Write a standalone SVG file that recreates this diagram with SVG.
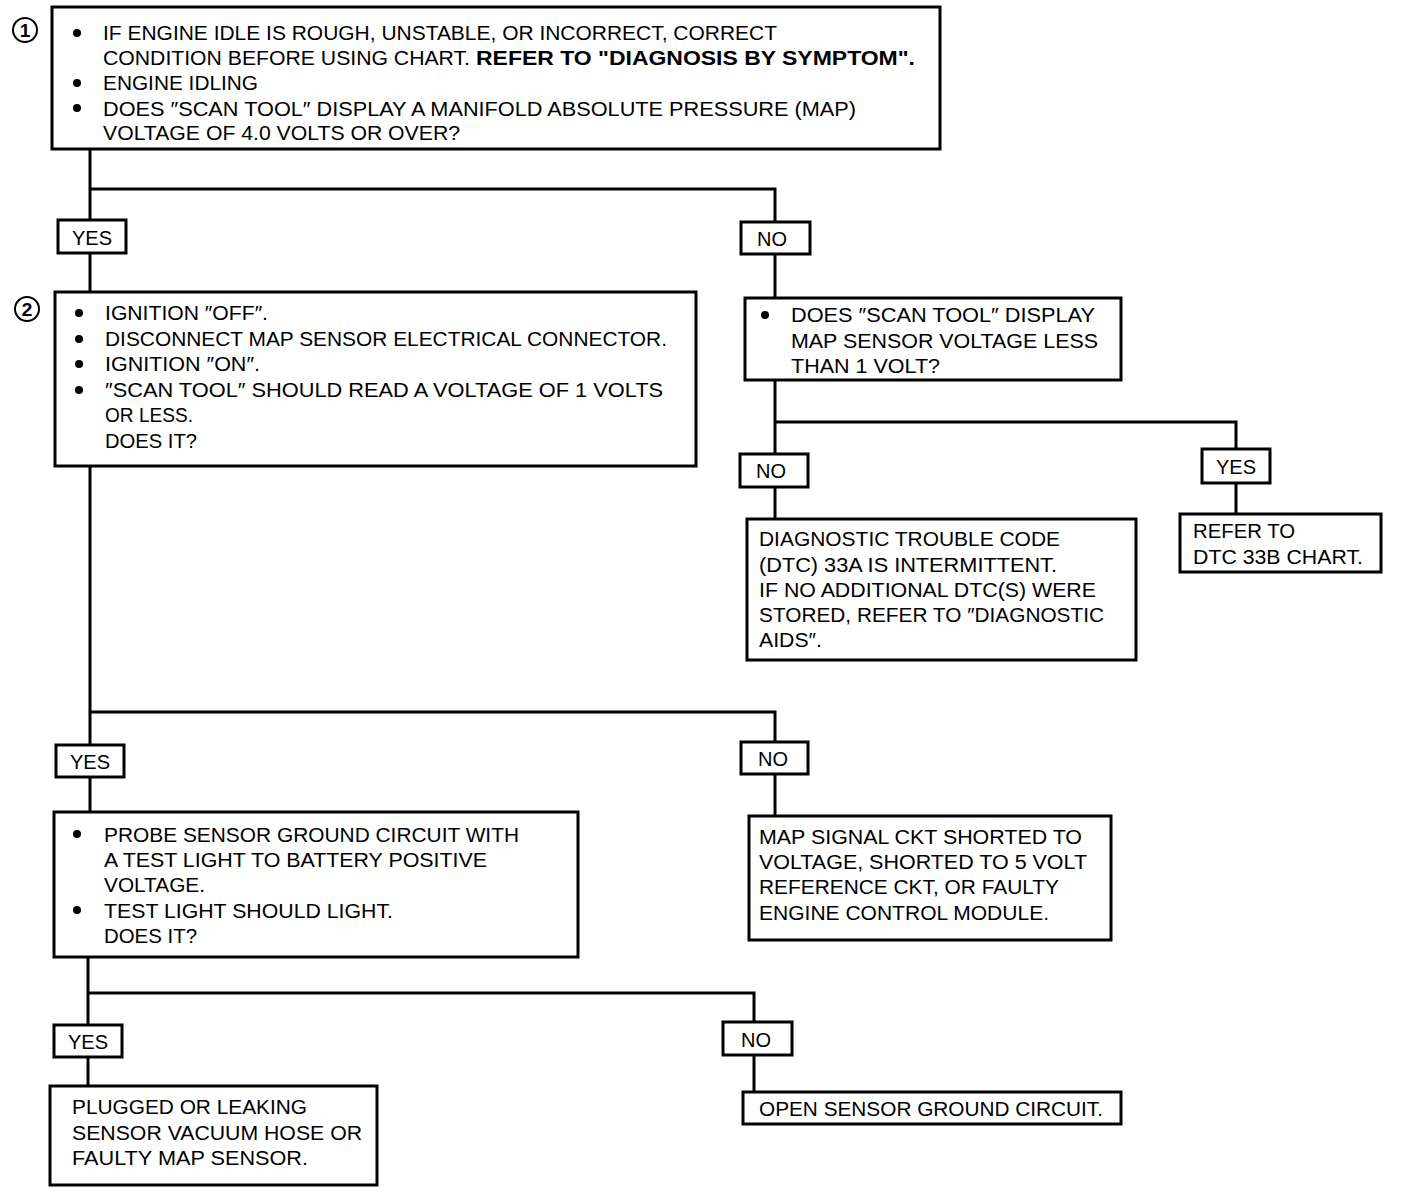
<svg xmlns="http://www.w3.org/2000/svg" width="1408" height="1192" viewBox="0 0 1408 1192">
<style>
.box{fill:#fff;stroke:#000;stroke-width:3}
.lbl{fill:#fff;stroke:#000;stroke-width:3}
.con{fill:none;stroke:#000;stroke-width:3}
text{font-family:"Liberation Sans",Arial,sans-serif;font-size:20px;fill:#000}
.b{font-weight:bold}
.lt{text-anchor:middle}
.num{font-size:19px;text-anchor:middle;font-weight:bold}
.cir{fill:none;stroke:#000;stroke-width:2}
</style>
<rect width="1408" height="1192" fill="#fff"/>
<g id="connectors">
<polyline class="con" points="90,149 90,292"/>
<polyline class="con" points="90,189 775,189 775,298"/>
<polyline class="con" points="775,380 775,519"/>
<polyline class="con" points="775,422 1236,422 1236,514"/>
<polyline class="con" points="90,466 90,812"/>
<polyline class="con" points="90,712 775,712 775,816"/>
<polyline class="con" points="88,957 88,1086"/>
<polyline class="con" points="88,993 754,993 754,1092"/>
</g>
<g id="step1">
<circle class="cir" cx="25" cy="30" r="12"/><text class="num" x="25" y="37">1</text>
<rect class="box" x="52" y="7" width="888" height="142"/>
<circle cx="77" cy="33" r="4"/><circle cx="77" cy="83" r="4"/><circle cx="77" cy="108" r="4"/>
<text x="103" y="40" textLength="674" lengthAdjust="spacingAndGlyphs">IF ENGINE IDLE IS ROUGH, UNSTABLE, OR INCORRECT, CORRECT</text>
<text x="103" y="65" textLength="367" lengthAdjust="spacingAndGlyphs">CONDITION BEFORE USING CHART.</text>
<text class="b" x="476" y="65" textLength="439" lengthAdjust="spacingAndGlyphs">REFER TO "DIAGNOSIS BY SYMPTOM".</text>
<text x="103" y="90" textLength="155" lengthAdjust="spacingAndGlyphs">ENGINE IDLING</text>
<text x="103" y="116" textLength="753" lengthAdjust="spacingAndGlyphs">DOES ″SCAN TOOL″ DISPLAY A MANIFOLD ABSOLUTE PRESSURE (MAP)</text>
<text x="103" y="140" textLength="357" lengthAdjust="spacingAndGlyphs">VOLTAGE OF 4.0 VOLTS OR OVER?</text>
</g>
<g id="yes1"><rect class="lbl" x="58" y="220" width="68" height="33"/><text class="lt" x="92" y="245">YES</text></g>
<g id="no1"><rect class="lbl" x="741" y="222" width="69" height="32"/><text class="lt" x="772" y="246">NO</text></g>
<g id="step2">
<circle class="cir" cx="27" cy="309" r="12"/><text class="num" x="27" y="316">2</text>
<rect class="box" x="55" y="292" width="641" height="174"/>
<circle cx="79" cy="313" r="4"/><circle cx="79" cy="339" r="4"/><circle cx="79" cy="364" r="4"/><circle cx="79" cy="390" r="4"/>
<text x="105" y="320" textLength="163" lengthAdjust="spacingAndGlyphs">IGNITION ″OFF″.</text>
<text x="105" y="346" textLength="562" lengthAdjust="spacingAndGlyphs">DISCONNECT MAP SENSOR ELECTRICAL CONNECTOR.</text>
<text x="105" y="371" textLength="155" lengthAdjust="spacingAndGlyphs">IGNITION ″ON″.</text>
<text x="105" y="397" textLength="558" lengthAdjust="spacingAndGlyphs">″SCAN TOOL″ SHOULD READ A VOLTAGE OF 1 VOLTS</text>
<text x="105" y="422" textLength="88" lengthAdjust="spacingAndGlyphs">OR LESS.</text>
<text x="105" y="448" textLength="92" lengthAdjust="spacingAndGlyphs">DOES IT?</text>
</g>
<g id="step3">
<rect class="box" x="745" y="298" width="376" height="82"/>
<circle cx="765" cy="315" r="4"/>
<text x="791" y="322" textLength="304" lengthAdjust="spacingAndGlyphs">DOES ″SCAN TOOL″ DISPLAY</text>
<text x="791" y="348" textLength="307" lengthAdjust="spacingAndGlyphs">MAP SENSOR VOLTAGE LESS</text>
<text x="791" y="373" textLength="149" lengthAdjust="spacingAndGlyphs">THAN 1 VOLT?</text>
</g>
<g id="no2"><rect class="lbl" x="740" y="454" width="68" height="33"/><text class="lt" x="771" y="478">NO</text></g>
<g id="yes2"><rect class="lbl" x="1202" y="449" width="68" height="34"/><text class="lt" x="1236" y="474">YES</text></g>
<g id="intermittent">
<rect class="box" x="747" y="519" width="389" height="141"/>
<text x="759" y="546" textLength="301" lengthAdjust="spacingAndGlyphs">DIAGNOSTIC TROUBLE CODE</text>
<text x="759" y="572" textLength="298" lengthAdjust="spacingAndGlyphs">(DTC) 33A  IS INTERMITTENT.</text>
<text x="759" y="597" textLength="337" lengthAdjust="spacingAndGlyphs">IF NO ADDITIONAL DTC(S) WERE</text>
<text x="759" y="622" textLength="345" lengthAdjust="spacingAndGlyphs">STORED, REFER TO ″DIAGNOSTIC</text>
<text x="759" y="647" textLength="63" lengthAdjust="spacingAndGlyphs">AIDS″.</text>
</g>
<g id="refer33b">
<rect class="box" x="1180" y="514" width="201" height="58"/>
<text x="1193" y="538" textLength="102" lengthAdjust="spacingAndGlyphs">REFER TO</text>
<text x="1193" y="564" textLength="170" lengthAdjust="spacingAndGlyphs">DTC 33B CHART.</text>
</g>
<g id="yes3"><rect class="lbl" x="56" y="745" width="68" height="32"/><text class="lt" x="90" y="769">YES</text></g>
<g id="no3"><rect class="lbl" x="741" y="742" width="67" height="32"/><text class="lt" x="773" y="766">NO</text></g>
<g id="step4">
<rect class="box" x="54" y="812" width="524" height="145"/>
<circle cx="77" cy="834" r="4"/><circle cx="77" cy="910" r="4"/>
<text x="104" y="842" textLength="415" lengthAdjust="spacingAndGlyphs">PROBE SENSOR GROUND CIRCUIT WITH</text>
<text x="104" y="867" textLength="383" lengthAdjust="spacingAndGlyphs">A TEST LIGHT TO BATTERY POSITIVE</text>
<text x="104" y="892" textLength="101" lengthAdjust="spacingAndGlyphs">VOLTAGE.</text>
<text x="104" y="918" textLength="289" lengthAdjust="spacingAndGlyphs">TEST LIGHT SHOULD LIGHT.</text>
<text x="104" y="943" textLength="93" lengthAdjust="spacingAndGlyphs">DOES IT?</text>
</g>
<g id="shorted">
<rect class="box" x="749" y="816" width="362" height="124"/>
<text x="759" y="844" textLength="323" lengthAdjust="spacingAndGlyphs">MAP SIGNAL CKT SHORTED TO</text>
<text x="759" y="869" textLength="328" lengthAdjust="spacingAndGlyphs">VOLTAGE, SHORTED TO 5 VOLT</text>
<text x="759" y="894" textLength="300" lengthAdjust="spacingAndGlyphs">REFERENCE CKT, OR FAULTY</text>
<text x="759" y="920" textLength="290" lengthAdjust="spacingAndGlyphs">ENGINE CONTROL MODULE.</text>
</g>
<g id="yes4"><rect class="lbl" x="54" y="1025" width="68" height="32"/><text class="lt" x="88" y="1049">YES</text></g>
<g id="no4"><rect class="lbl" x="723" y="1022" width="69" height="33"/><text class="lt" x="756" y="1047">NO</text></g>
<g id="plugged">
<rect class="box" x="50" y="1086" width="327" height="99"/>
<text x="72" y="1114" textLength="235" lengthAdjust="spacingAndGlyphs">PLUGGED OR LEAKING</text>
<text x="72" y="1140" textLength="290" lengthAdjust="spacingAndGlyphs">SENSOR VACUUM HOSE OR</text>
<text x="72" y="1165" textLength="236" lengthAdjust="spacingAndGlyphs">FAULTY MAP SENSOR.</text>
</g>
<g id="opencircuit">
<rect class="box" x="743" y="1092" width="378" height="32"/>
<text x="759" y="1116" textLength="344" lengthAdjust="spacingAndGlyphs">OPEN SENSOR GROUND CIRCUIT.</text>
</g>
</svg>
